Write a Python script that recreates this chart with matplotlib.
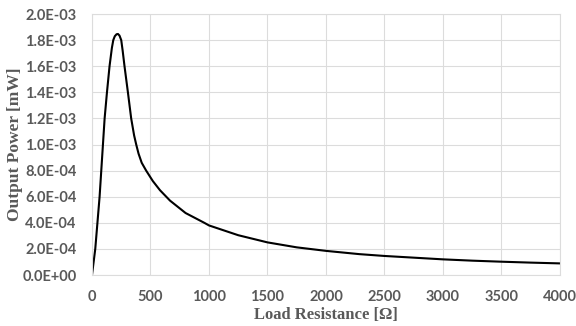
import matplotlib
matplotlib.use("Agg")
import matplotlib.pyplot as plt
from matplotlib.ticker import FuncFormatter, MultipleLocator

resistance = [0, 28, 65, 108, 128, 150, 170, 182, 195, 210, 222, 235, 250, 262, 278, 307,
              335, 360, 378, 398, 425, 463, 520, 581, 667, 800, 960, 1000, 1250, 1500,
              1750, 2000, 2285, 2500, 2750, 3000, 3250, 3500, 3750, 4000]
power = [0, 2.0e-4, 6.0e-4, 1.2e-3, 1.4e-3, 1.6e-3, 1.74e-3, 1.8e-3, 1.83e-3, 1.845e-3,
         1.847e-3, 1.835e-3, 1.8e-3, 1.72e-3, 1.6e-3, 1.4e-3, 1.2e-3, 1.07e-3, 1.0e-3,
         9.3e-4, 8.6e-4, 8.0e-4, 7.2e-4, 6.5e-4, 5.7e-4, 4.75e-4, 4.0e-4, 3.8e-4, 3.05e-4,
         2.5e-4, 2.12e-4, 1.85e-4, 1.6e-4, 1.46e-4, 1.33e-4, 1.2e-4, 1.1e-4, 1.02e-4,
         9.5e-5, 8.9e-5]

x_label = "Load Resistance [\u03a9]"
y_label = "Output Power [mW]"

fig = plt.figure(figsize=(5.76, 3.26), dpi=100)
ax = fig.add_axes([0.1597, 0.1564, 0.8125, 0.8006])
ax.plot(resistance, power, color="black", lw=1.5, solid_joinstyle="round")

ax.set_xlim(0, 4000)
ax.set_ylim(0, 2.0e-3)
ax.xaxis.set_major_locator(MultipleLocator(500))
ax.yaxis.set_major_locator(MultipleLocator(2.0e-4))
ax.yaxis.set_major_formatter(FuncFormatter(lambda v, p: f"{v:.1E}"))

ax.grid(True, color="#dcdcdc", lw=0.8)
ax.set_axisbelow(True)
for s in ax.spines.values():
    s.set_color("#dcdcdc")
    s.set_linewidth(0.8)
ax.tick_params(axis="y", length=0, colors="#595959", labelsize=10.5, pad=11)
ax.tick_params(axis="x", length=0, colors="#595959", labelsize=10.5, pad=11)
for lab in ax.get_xticklabels() + ax.get_yticklabels():
    lab.set_fontfamily("Lato")
    lab.set_fontweight("bold")

ax.set_xlabel(x_label, fontfamily="Liberation Serif", fontweight="bold",
              fontsize=12, color="#595959")
ax.set_ylabel(y_label, fontfamily="Liberation Serif", fontweight="bold",
              fontsize=12.5, color="#595959")
ax.xaxis.set_label_coords(0.5, -0.122)
ax.yaxis.set_label_coords(-0.147, 0.5)

fig.savefig("out.png", dpi=100)
